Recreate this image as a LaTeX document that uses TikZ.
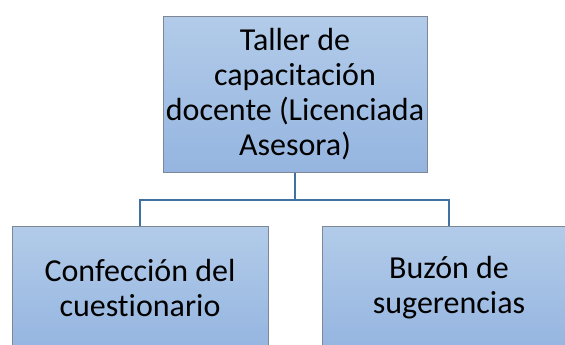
\documentclass[tikz,border=0pt]{standalone}
\usepackage{fontspec}
\setmainfont{Carlito}[Ligatures={NoCommon}]
\usepackage{tikz}
\usetikzlibrary{positioning}

\definecolor{boxtop}{RGB}{178,203,233}
\definecolor{boxbottom}{RGB}{149,181,224}
\definecolor{boxline}{RGB}{125,135,150}
\definecolor{linkblue}{RGB}{65,113,160}

\tikzset{
  unit/.style={draw=boxline, line width=1pt, top color=boxtop, bottom color=boxbottom,
    rectangle, align=center, inner sep=0pt, font=\fontsize{32}{35}\selectfont},
  link/.style={draw=linkblue, line width=2.4pt}
}

\begin{document}
\begin{tikzpicture}[x=1pt, y=-1pt]
      \useasboundingbox (0,0) rectangle (565,345);
      \node[unit, minimum width=264pt, minimum height=155pt] (taller) at (295,94.5)
        {Taller de\\capacitación\\docente (Licenciada\\Asesora)};

      \node[unit, minimum width=256pt, minimum height=124pt] (cuest) at (140,288)
        {Confección del\\cuestionario};
      \node[unit, minimum width=254pt, minimum height=124pt] (buzon) at (449,288)
        {Buzón de\\sugerencias};

      \coordinate (split) at (295,200);

      \draw[link] (taller.south) -- (split) -| (cuest.north);
      \draw[link] (split) -| (buzon.north);
    \end{tikzpicture}
\end{document}
